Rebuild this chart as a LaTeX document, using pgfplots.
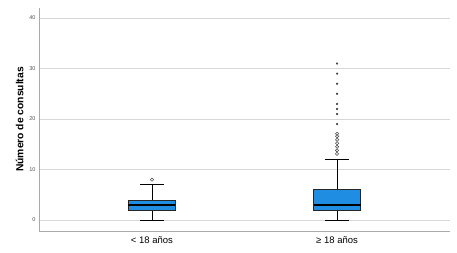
\documentclass[border=0pt]{standalone}
\usepackage{pgfplots}
\pgfplotsset{compat=1.18}
\usepgfplotslibrary{statistics}
\usepackage{fontspec}
\setmainfont{Liberation Sans}
\definecolor{boxblue}{RGB}{31,142,226}
\definecolor{gridgray}{RGB}{215,215,215}
\definecolor{axgray}{RGB}{170,170,170}
\definecolor{ticktext}{RGB}{80,80,80}
\begin{document}
\begin{tikzpicture}
\begin{axis}[
  scale only axis,
  width=411pt, height=223pt,
  xmin=0.39, xmax=2.61,
  ymin=-2.18, ymax=42,
  axis x line*=bottom, axis y line*=left,
  axis line style={axgray, line width=0.8pt},
  xtick={1,2}, xticklabels={{< 18 años},{≥ 18 años}},
  ytick={0,10,20,30,40},
  major tick length=0pt,
  ymajorgrids, grid style={gridgray, line width=0.7pt},
  /pgf/number format/assume math mode=true,
  yticklabel style={font=\fontsize{5.5}{6}\selectfont, text=ticktext},
  xticklabel style={font=\fontsize{9.5}{10}\selectfont, yshift=-2pt},
  ylabel={\bfseries Número de consultas},
  ylabel style={font=\fontsize{10.3}{11}\selectfont, yshift=-1pt},
  boxplot/draw direction=y,
  boxplot/every median/.style={black, line width=1.5pt},
  boxplot/every box/.style={fill=boxblue, draw=black!85, line width=0.6pt},
  boxplot/every whisker/.style={black, line width=0.8pt},
]
\addplot[boxplot prepared={draw position=1, lower whisker=0, lower quartile=2, median=3, upper quartile=4, upper whisker=7, box extend=0.254, whisker extend=0.127}] coordinates {};
\addplot[boxplot prepared={draw position=2, lower whisker=0, lower quartile=2, median=3, upper quartile=6, upper whisker=12, box extend=0.254, whisker extend=0.127}] coordinates {};
\addplot[only marks, mark=o, mark size=1.6pt, draw=black!70, line width=0.55pt] coordinates {(1,8) (2,13.1) (2,13.8) (2,14.5) (2,15.2) (2,15.9) (2,16.6) (2,17.1)};
\addplot[only marks, mark=*, mark size=0.9pt, black!75] coordinates {(2,19) (2,21) (2,22) (2,23) (2,25) (2,27) (2,29) (2,31)};
\end{axis}
\path (current axis.south west) ++(-39pt,-21pt) coordinate (bl);
\path (current axis.north east) ++(7pt,8pt) coordinate (tr);
\useasboundingbox (bl) rectangle (tr);
\end{tikzpicture}
\end{document}
